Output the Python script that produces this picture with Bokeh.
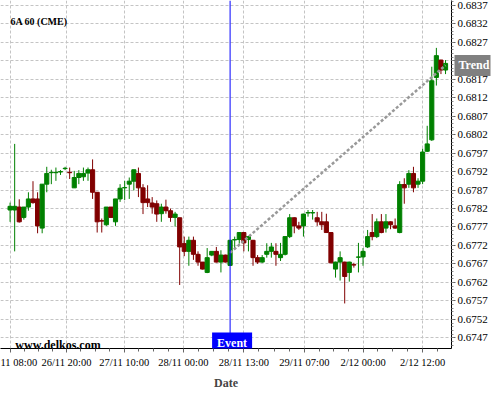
from bokeh.plotting import figure
from bokeh.models import (Range1d, FixedTicker, PrintfTickFormatter, Label, Span,
                          ColumnDataSource, LinearAxis)
from bokeh.embed import file_html
from bokeh.resources import INLINE

# ---- data (hourly candles, bar index on x) ----
opens = [0.67816, 0.67816, 0.67824, 0.67796, 0.67824, 0.67846, 0.67846, 0.67767, 0.67886, 0.67917,
         0.67917, 0.67919, 0.67928, 0.67918, 0.67876, 0.67904, 0.67906, 0.67916, 0.67925, 0.67864,
         0.67787, 0.67776, 0.67824, 0.67784, 0.67846, 0.67876, 0.67886, 0.67894, 0.67915, 0.67876,
         0.67846, 0.67835, 0.67833, 0.67806, 0.67824, 0.67814, 0.67796, 0.67795, 0.67725, 0.67704,
         0.67734, 0.67696, 0.67675, 0.67647, 0.67694, 0.67704, 0.67675, 0.67694, 0.67666, 0.67735,
         0.67736, 0.67755, 0.67736, 0.67734, 0.67687, 0.67675, 0.67696, 0.67704, 0.67704, 0.67687,
         0.67696, 0.67744, 0.67795, 0.67773, 0.67773, 0.67808, 0.67808, 0.67795, 0.67784, 0.67784,
         0.67755, 0.67656, 0.67675, 0.67675, 0.67647, 0.67668, 0.67688, 0.67689, 0.67716, 0.67755,
         0.67744, 0.67784, 0.67767, 0.67784, 0.67773, 0.67755, 0.67885, 0.67886, 0.67915, 0.67886,
         0.67894, 0.67975, 0.68006, 0.68175, 0.68222, 0.68195]
highs = [0.67836, 0.67995, 0.67845, 0.67824, 0.67864, 0.67894, 0.67864, 0.67886, 0.67933, 0.67925,
         0.67931, 0.67924, 0.67933, 0.67931, 0.67922, 0.67924, 0.67931, 0.67931, 0.67953, 0.67864,
         0.67793, 0.67824, 0.67824, 0.67846, 0.67886, 0.67895, 0.67904, 0.67925, 0.67931, 0.67886,
         0.67883, 0.67851, 0.67842, 0.67833, 0.67844, 0.67820, 0.67811, 0.67795, 0.67744, 0.67744,
         0.67744, 0.67704, 0.67675, 0.67713, 0.67705, 0.67716, 0.67707, 0.67695, 0.67735, 0.67744,
         0.67756, 0.67756, 0.67745, 0.67735, 0.67694, 0.67694, 0.67726, 0.67727, 0.67726, 0.67727,
         0.67745, 0.67805, 0.67796, 0.67784, 0.67806, 0.67816, 0.67816, 0.67811, 0.67811, 0.67806,
         0.67756, 0.67676, 0.67704, 0.67676, 0.67676, 0.67673, 0.67727, 0.67713, 0.67762, 0.67805,
         0.67793, 0.67805, 0.67805, 0.67785, 0.67793, 0.67894, 0.67902, 0.67924, 0.67933, 0.67902,
         0.67982, 0.68044, 0.68204, 0.68255, 0.68223, 0.68222]
lows = [0.67784, 0.67704, 0.67782, 0.67790, 0.67814, 0.67833, 0.67753, 0.67753, 0.67864, 0.67886,
        0.67895, 0.67911, 0.67924, 0.67900, 0.67876, 0.67886, 0.67895, 0.67895, 0.67846, 0.67755,
        0.67755, 0.67773, 0.67795, 0.67773, 0.67838, 0.67843, 0.67846, 0.67869, 0.67851, 0.67805,
        0.67824, 0.67806, 0.67784, 0.67784, 0.67806, 0.67784, 0.67771, 0.67613, 0.67691, 0.67665,
        0.67681, 0.67665, 0.67655, 0.67645, 0.67691, 0.67674, 0.67647, 0.67674, 0.67665, 0.67709,
        0.67725, 0.67704, 0.67704, 0.67665, 0.67670, 0.67673, 0.67687, 0.67687, 0.67665, 0.67678,
        0.67693, 0.67740, 0.67753, 0.67762, 0.67744, 0.67798, 0.67790, 0.67773, 0.67762, 0.67755,
        0.67672, 0.67633, 0.67625, 0.67563, 0.67622, 0.67660, 0.67647, 0.67665, 0.67713, 0.67734,
        0.67740, 0.67753, 0.67755, 0.67764, 0.67765, 0.67753, 0.67833, 0.67876, 0.67864, 0.67876,
        0.67886, 0.67973, 0.68003, 0.68153, 0.68184, 0.68184]
closes = [0.67826, 0.67826, 0.67784, 0.67824, 0.67846, 0.67836, 0.67773, 0.67886, 0.67915, 0.67918,
          0.67918, 0.67920, 0.67929, 0.67917, 0.67904, 0.67915, 0.67915, 0.67925, 0.67864, 0.67784,
          0.67786, 0.67824, 0.67796, 0.67846, 0.67875, 0.67877, 0.67894, 0.67925, 0.67876, 0.67836,
          0.67836, 0.67824, 0.67805, 0.67824, 0.67814, 0.67796, 0.67805, 0.67716, 0.67704, 0.67734,
          0.67696, 0.67675, 0.67656, 0.67687, 0.67704, 0.67675, 0.67694, 0.67675, 0.67734, 0.67736,
          0.67755, 0.67727, 0.67744, 0.67687, 0.67675, 0.67687, 0.67704, 0.67716, 0.67696, 0.67696,
          0.67744, 0.67795, 0.67773, 0.67767, 0.67805, 0.67809, 0.67809, 0.67784, 0.67776, 0.67755,
          0.67673, 0.67675, 0.67687, 0.67636, 0.67675, 0.67667, 0.67689, 0.67704, 0.67744, 0.67744,
          0.67784, 0.67755, 0.67784, 0.67776, 0.67767, 0.67885, 0.67876, 0.67915, 0.67876, 0.67894,
          0.67973, 0.67995, 0.68166, 0.68234, 0.68195, 0.68213]
bars = list(range(len(opens)))

tick_pos = [0, 12.3, 24.9, 37.8, 51, 64.2, 77, 90]
tick_labels = ["11 08:00", "26/11 20:00", "27/11 10:00", "28/11 00:00",
               "28/11 13:00", "29/11 07:00", "2/12 00:00", "2/12 12:00"]
price_ticks = [round(0.6747 + 0.0005 * k, 4) for k in range(19)]

event_bar = 48
trend_x = [48, 95]
trend_y = [0.67700, 0.68208]

title_text = "6A 60 (CME)"
watermark_text = "www.delkos.com"

GREEN = "#008000"
RED = "#800000"
SERIF = "Liberation Serif"

X0, X1 = -2.09, 96.3
Y0, Y1 = 0.67441, 0.683833
FRAME_W = 456

# ---- figure ----
p = figure(width=492, height=392, title=None,
           x_range=Range1d(X0, X1), y_range=Range1d(Y0, Y1),
           output_backend="svg", toolbar_location=None, y_axis_location="right",
           min_border_left=0, min_border_top=0, min_border_right=492 - FRAME_W,
           min_border_bottom=40)
p.outline_line_color = None
p.background_fill_color = "white"

colors = [GREEN if c >= o else RED for o, c in zip(opens, closes)]
src = ColumnDataSource(dict(
    x=bars, high=highs, low=lows,
    top=[max(o, c) for o, c in zip(opens, closes)],
    bottom=[min(o, c) for o, c in zip(opens, closes)],
    color=colors))

p.segment(x0="x", y0="low", x1="x", y1="high", color="color", line_width=1, source=src)
p.vbar(x="x", width=0.9, top="top", bottom="bottom", fill_color="color",
       line_color="color", line_width=1, source=src)

# trend line
p.line(trend_x, trend_y, line_color="#999999", line_width=2.5, line_dash="3 2")

# event line
p.add_layout(Span(location=event_bar, dimension="height", line_color="#0000ff",
                  line_width=1))

# ---- axes ----
minor_x = []
for a, b in zip(tick_pos[:-1], tick_pos[1:]):
    for k in (1, 2, 3):
        minor_x.append(a + (b - a) * k / 4)
minor_x += [tick_pos[-1] + 3.2, tick_pos[-1] + 6.4]

xt = FixedTicker(ticks=tick_pos, minor_ticks=minor_x)
p.xaxis.ticker = xt
p.xaxis.major_label_overrides = {t: l for t, l in zip(tick_pos, tick_labels)}
p.xaxis.axis_label = "Date"
p.xaxis.axis_label_text_font = SERIF
p.xaxis.axis_label_text_font_style = "bold"
p.xaxis.axis_label_text_font_size = "12px"
p.xaxis.axis_label_standoff = 5
p.xaxis.major_label_text_font = SERIF
p.xaxis.major_label_text_font_size = "10.5px"
p.xaxis.major_label_text_color = "black"
p.xaxis.major_label_standoff = 4
p.xaxis.axis_line_color = "black"
p.xaxis.major_tick_out = 4
p.xaxis.major_tick_in = 0
p.xaxis.minor_tick_out = 3
p.xaxis.minor_tick_in = 0
p.xaxis.major_tick_line_color = "#666666"
p.xaxis.minor_tick_line_color = "#666666"

minor_y = [round(0.6744 + 0.0001 * k, 4) for k in range(95)]
yt = FixedTicker(ticks=price_ticks, minor_ticks=minor_y)
p.yaxis.ticker = yt
p.yaxis.formatter = PrintfTickFormatter(format="%.4f")
p.yaxis.major_label_text_font = SERIF
p.yaxis.major_label_text_font_size = "11px"
p.yaxis.major_label_text_color = "black"
p.yaxis.major_label_standoff = 2
p.yaxis.axis_line_color = "black"
p.yaxis.major_tick_out = 4
p.yaxis.major_tick_in = 0
p.yaxis.minor_tick_out = 2
p.yaxis.minor_tick_in = 0
p.yaxis.major_tick_line_color = "#666666"
p.yaxis.minor_tick_line_color = "#888888"

# "Trend" marker on the price scale: an extra right axis with one tick
trend_axis = LinearAxis(ticker=FixedTicker(ticks=[trend_y[-1]], minor_ticks=[]))
trend_axis.major_label_overrides = {trend_y[-1]: "Trend"}
trend_axis.axis_line_color = None
trend_axis.minor_tick_line_color = None
trend_axis.major_tick_out = 0
trend_axis.major_tick_in = 36
trend_axis.major_tick_line_color = "#808080"
trend_axis.major_tick_line_width = 21
trend_axis.major_tick_line_cap = "butt"
trend_axis.major_label_text_color = "white"
trend_axis.major_label_text_font = SERIF
trend_axis.major_label_text_font_style = "bold"
trend_axis.major_label_text_font_size = "12px"
try:
    trend_axis.major_label_standoff = -32
except Exception:
    trend_axis.major_label_standoff = 0
p.add_layout(trend_axis, "right")

p.xgrid.ticker = xt
p.ygrid.ticker = yt
for g in (p.xgrid, p.ygrid):
    g.grid_line_color = "#c4c4c4"
    g.grid_line_dash = "3 2"
    g.grid_line_width = 1

# ---- annotations ----
p.add_layout(Label(x=0.07, y=0.68327, text=title_text, text_font=SERIF,
                   text_font_style="bold", text_font_size="10px", text_color="black",
                   text_baseline="middle", text_align="left"))
p.add_layout(Label(x=1.15, y=0.67450, text=watermark_text, text_font=SERIF,
                   text_font_style="bold", text_font_size="12px", text_color="black",
                   text_baseline="middle", text_align="left"))
p.add_layout(Label(x=event_bar, y=Y0, x_offset=2, y_offset=-4, text="Event",
                   text_font=SERIF, text_font_style="bold", text_font_size="12px",
                   text_color="white", text_baseline="bottom", text_align="center",
                   background_fill_color="#0000ff", padding=(5, 5, 3, 3)))

open("out.html", "w").write(file_html(p, INLINE))
